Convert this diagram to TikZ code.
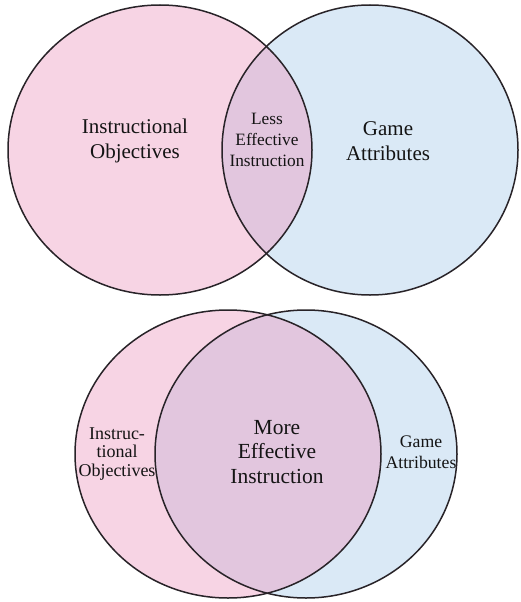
\documentclass[tikz,border=0pt]{standalone}
\usepackage{fontspec}
\setmainfont{Liberation Serif}
\definecolor{pinkc}{RGB}{247,212,228}
\definecolor{bluec}{RGB}{218,233,246}
\definecolor{overc}{RGB}{226,198,222}
\definecolor{edgec}{RGB}{40,35,40}
\begin{document}
\begin{tikzpicture}[x=1pt,y=-1pt,
  outline/.style={draw=edgec,line width=1.5pt},
  lbl/.style={align=center,text=black!92,inner sep=0pt}]
\useasboundingbox (0,0) rectangle (520,602);
% ---- top Venn ----
\fill[pinkc] (160,150) ellipse [x radius=152,y radius=145];
\fill[bluec] (370,150) ellipse [x radius=148,y radius=145];
\begin{scope}
  \clip (160,150) ellipse [x radius=152,y radius=145];
  \fill[overc] (370,150) ellipse [x radius=148,y radius=145];
\end{scope}
\draw[outline] (160,150) ellipse [x radius=152,y radius=145];
\draw[outline] (370,150) ellipse [x radius=148,y radius=145];
\node[lbl,font=\fontsize{21}{25.5}\selectfont] (io1) at (135,141) {Instructional\\Objectives};
\node[lbl,font=\fontsize{21}{25.5}\selectfont] (ga1) at (388,141) {Game\\Attributes};
\node[lbl,font=\fontsize{17.3}{21.3}\selectfont] (lei) at (267,140) {Less\\Effective\\Instruction};
% ---- bottom Venn ----
\fill[pinkc] (228,454) ellipse [x radius=153,y radius=144];
\fill[bluec] (306,454) ellipse [x radius=151,y radius=144];
\begin{scope}
  \clip (228,454) ellipse [x radius=153,y radius=144];
  \fill[overc] (306,454) ellipse [x radius=151,y radius=144];
\end{scope}
\draw[outline] (228,454) ellipse [x radius=153,y radius=144];
\draw[outline] (306,454) ellipse [x radius=151,y radius=144];
\node[lbl,font=\fontsize{18}{18.5}\selectfont] (io2) at (117,454) {Instruc-\\tional\\Objectives};
\node[lbl,font=\fontsize{17.7}{21}\selectfont] (ga2) at (421,452) {Game\\Attributes};
\node[lbl,font=\fontsize{21.5}{24.5}\selectfont] (mei) at (277,452) {More\\Effective\\Instruction};
\end{tikzpicture}
\end{document}
